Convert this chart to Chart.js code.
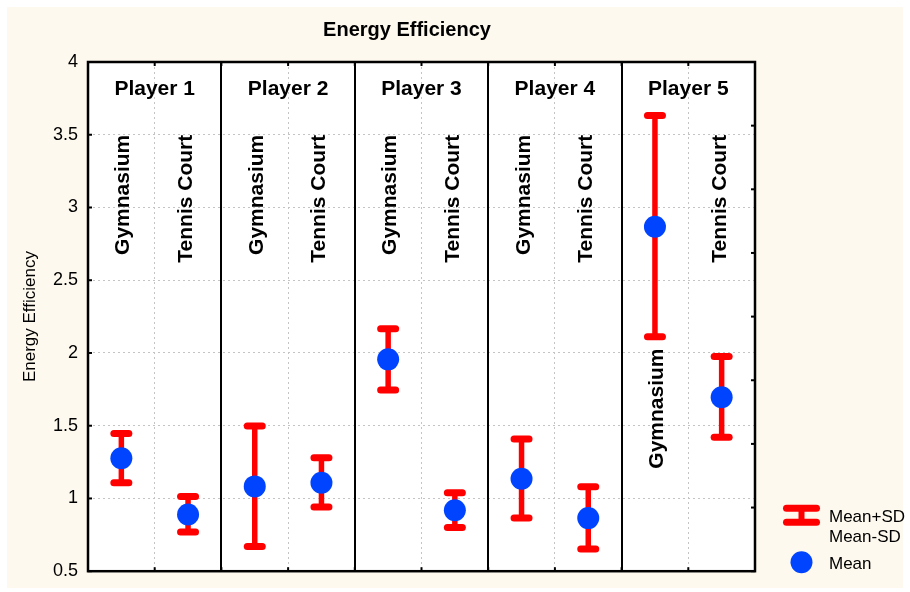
<!DOCTYPE html>
<html><head><meta charset="utf-8">
<script src="https://cdn.jsdelivr.net/npm/chart.js@4/dist/chart.umd.min.js"></script>
<style>html,body{margin:0;padding:0;background:#fff}#wrap{width:910px;height:592px;position:relative}</style>
</head><body><div id="wrap"><canvas id="c" width="910" height="592"></canvas></div>
<script>
const chartTitle = 'Energy Efficiency';
const yAxisTitle = 'Energy Efficiency';
const players = ['Player 1', 'Player 2', 'Player 3', 'Player 4', 'Player 5'];
const conditions = ['Gymnasium', 'Tennis Court'];
// order: P1 Gym, P1 TC, P2 Gym, P2 TC, ...
const meanValues  = [1.277, 0.890, 1.083, 1.108, 1.956, 0.919, 1.136, 0.865, 2.867, 1.696];
const upperValues = [1.446, 1.013, 1.498, 1.279, 2.166, 1.040, 1.409, 1.081, 3.633, 1.975];
const lowerValues = [1.108, 0.769, 0.669, 0.942, 1.746, 0.801, 0.865, 0.653, 2.111, 1.421];
const yTickValues = [0.5, 1, 1.5, 2, 2.5, 3, 3.5, 4];
const yTickLabels = ['0.5', '1', '1.5', '2', '2.5', '3', '3.5', '4'];
const legendLabels = ['Mean+SD', 'Mean-SD', 'Mean'];

const FONT = 'Arial, "Liberation Sans", Helvetica, sans-serif';
const RED = '#ff0000';
const BLUE = '#0044ff';
const CREAM = '#fef9ee';

const points = meanValues.map((v, i) => ({x: i + 0.5, y: v}));

const deco = {
  id: 'deco',
  beforeDraw(chart) {
    const ctx = chart.ctx, a = chart.chartArea;
    ctx.save();
    ctx.fillStyle = '#ffffff';
    ctx.fillRect(0, 0, chart.width, chart.height);
    ctx.fillStyle = CREAM;
    ctx.fillRect(7, 7, 896, 581);
    ctx.fillStyle = '#ffffff';
    ctx.fillRect(a.left, a.top, a.right - a.left, a.bottom - a.top);
    ctx.restore();
  },
  beforeDatasetsDraw(chart) {
    const ctx = chart.ctx, a = chart.chartArea;
    const xs = chart.scales.x, ys = chart.scales.y, y2 = chart.scales.y2;
    ctx.save();
    // panel dividers
    ctx.strokeStyle = '#000';
    ctx.lineWidth = 2;
    for (let p = 1; p < players.length; p++) {
      const px = Math.round(xs.getPixelForValue(p * conditions.length));
      ctx.beginPath(); ctx.moveTo(px, a.top); ctx.lineTo(px, a.bottom); ctx.stroke();
    }
    // inward ticks
    ctx.lineWidth = 2;
    const tl = 4;
    yTickValues.forEach(v => {
      const py = ys.getPixelForValue(v);
      ctx.beginPath(); ctx.moveTo(a.left, py); ctx.lineTo(a.left + tl, py); ctx.stroke();
    });
    for (let v = 1; v < players.length * conditions.length; v++) {
      const px = xs.getPixelForValue(v);
      ctx.beginPath(); ctx.moveTo(px, a.bottom); ctx.lineTo(px, a.bottom - tl); ctx.stroke();
      ctx.beginPath(); ctx.moveTo(px, a.top); ctx.lineTo(px, a.top + tl); ctx.stroke();
    }
    y2.ticks.forEach(t => {
      const py = y2.getPixelForValue(t.value);
      ctx.beginPath(); ctx.moveTo(a.right, py); ctx.lineTo(a.right - tl, py); ctx.stroke();
    });
    // outer border
    ctx.lineWidth = 2.5;
    ctx.strokeRect(a.left, a.top, a.right - a.left, a.bottom - a.top);

    // panel titles
    ctx.fillStyle = '#000';
    ctx.font = 'bold 21px ' + FONT;
    ctx.textAlign = 'center';
    ctx.textBaseline = 'alphabetic';
    players.forEach((p, i) => {
      const cx = xs.getPixelForValue(i * conditions.length + conditions.length / 2);
      ctx.fillText(p, cx, a.top + 33);
    });
    // rotated condition labels
    meanValues.forEach((m, i) => {
      const ci = i % conditions.length;
      const label = conditions[ci];
      let endVal = 3.5;
      if (upperValues[i] > 3.4) endVal = lowerValues[i] - 0.08;
      const px = xs.getPixelForValue(i + 0.5) + (ci === 0 ? 8 : 4);
      const py = ys.getPixelForValue(endVal);
      ctx.save();
      ctx.translate(px, py);
      ctx.rotate(-Math.PI / 2);
      ctx.textAlign = 'right';
      ctx.textBaseline = 'alphabetic';
      ctx.fillText(label, 0, 0);
      ctx.restore();
    });

    // error bars
    ctx.strokeStyle = RED;
    meanValues.forEach((m, i) => {
      const px = xs.getPixelForValue(i + 0.5);
      const pu = ys.getPixelForValue(upperValues[i]);
      const pl = ys.getPixelForValue(lowerValues[i]);
      ctx.lineCap = 'butt';
      ctx.lineWidth = 5.5;
      ctx.beginPath(); ctx.moveTo(px, pu); ctx.lineTo(px, pl); ctx.stroke();
      ctx.lineCap = 'round';
      ctx.lineWidth = 7;
      [pu, pl].forEach(py => {
        ctx.beginPath(); ctx.moveTo(px - 7.5, py); ctx.lineTo(px + 7.5, py); ctx.stroke();
      });
    });
    ctx.restore();
  },
  afterDraw(chart) {
    const ctx = chart.ctx, a = chart.chartArea;
    const lx = a.right + 28, rx = a.right + 65, cx = (lx + rx) / 2;
    ctx.save();
    ctx.strokeStyle = RED;
    ctx.lineCap = 'round';
    ctx.lineWidth = 7;
    [a.bottom - 63, a.bottom - 49].forEach(py => {
      ctx.beginPath(); ctx.moveTo(lx + 3.5, py); ctx.lineTo(rx - 3.5, py); ctx.stroke();
    });
    ctx.lineCap = 'butt';
    ctx.lineWidth = 6;
    ctx.beginPath(); ctx.moveTo(cx, a.bottom - 63); ctx.lineTo(cx, a.bottom - 49); ctx.stroke();
    ctx.fillStyle = BLUE;
    ctx.beginPath(); ctx.arc(cx, a.bottom - 9, 11, 0, Math.PI * 2); ctx.fill();
    ctx.fillStyle = '#000';
    ctx.font = '17px ' + FONT;
    ctx.textAlign = 'left';
    ctx.textBaseline = 'alphabetic';
    ctx.fillText(legendLabels[0], a.right + 74, a.bottom - 49);
    ctx.fillText(legendLabels[1], a.right + 74, a.bottom - 29);
    ctx.fillText(legendLabels[2], a.right + 74, a.bottom - 2);
    ctx.restore();
  }
};

new Chart(document.getElementById('c'), {
  type: 'scatter',
  data: {
    datasets: [{
      label: 'Mean',
      data: points,
      pointRadius: 11,
      pointHoverRadius: 11,
      backgroundColor: BLUE,
      borderWidth: 0,
      yAxisID: 'y'
    }]
  },
  options: {
    responsive: false,
    animation: false,
    devicePixelRatio: 1,
    events: [],
    layout: {padding: {left: 7, right: 103, top: 7, bottom: 0}},
    plugins: {
      legend: {display: false},
      tooltip: {enabled: false},
      title: {
        display: true,
        text: chartTitle,
        color: '#000',
        font: {family: FONT, size: 20, weight: 'bold'},
        padding: {top: 11, bottom: 20}
      }
    },
    scales: {
      x: {
        type: 'linear', min: 0, max: players.length * conditions.length,
        ticks: {display: false, stepSize: 1},
        grid: {color: '#c4c4c4', drawTicks: false, lineWidth: 1},
        border: {display: false, dash: [2, 3]},
        afterFit: s => { s.height = 18; }
      },
      y: {
        type: 'linear', position: 'left', min: 0.5, max: 4,
        afterBuildTicks: s => { s.ticks = yTickValues.map(v => ({value: v})); },
        ticks: {
          callback: (v, i) => yTickLabels[yTickValues.indexOf(v)],
          color: '#000', font: {family: FONT, size: 18}, padding: 10
        },
        grid: {color: '#c4c4c4', drawTicks: false, lineWidth: 1},
        border: {display: false, dash: [2, 3]},
        title: {display: true, text: yAxisTitle, color: '#000', font: {family: FONT, size: 17}, padding: {top: 13, bottom: 0}},
        afterFit: s => { s.width = 81; }
      },
      y2: {
        type: 'linear', position: 'right', min: 0, max: 8,
        ticks: {display: false, stepSize: 1},
        grid: {drawOnChartArea: false, drawTicks: false},
        border: {display: false},
        afterFit: s => { s.width = 52; }
      }
    }
  },
  plugins: [deco]
});
</script>
</body></html>
